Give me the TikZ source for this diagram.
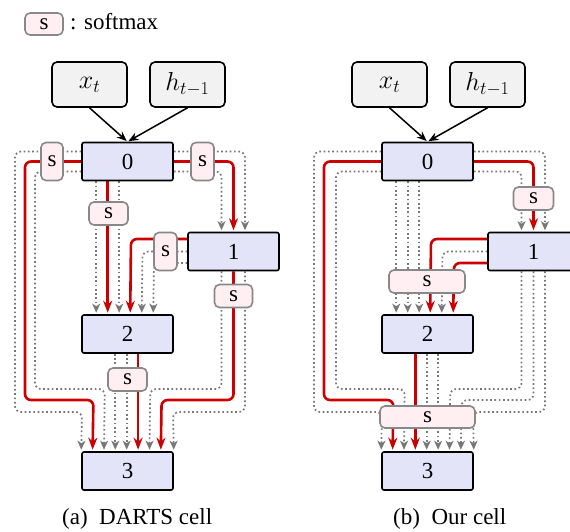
\RequirePackage{fix-cm}
\documentclass[tikz,border=0pt]{standalone}
\usepackage[no-math]{fontspec}
\setmainfont{Liberation Serif}
\usetikzlibrary{arrows.meta,calc}
\definecolor{nodefill}{RGB}{228,228,248}
\definecolor{sfill}{RGB}{255,238,242}
\definecolor{sdraw}{RGB}{136,136,136}
\definecolor{infill}{RGB}{242,242,242}
\definecolor{redl}{RGB}{204,0,0}
\definecolor{grayl}{RGB}{120,120,120}
\pgfdeclarelayer{bg}
\pgfsetlayers{bg,main}
\begin{document}
\begin{tikzpicture}[x=1pt,y=-1pt,
  font=\fontsize{23}{27}\selectfont,
  cellnode/.style={draw=black, line width=1.6pt, fill=nodefill, rounded corners=2pt, minimum width=91pt, minimum height=38pt, inner sep=0pt},
  innode/.style={draw=black, line width=1.6pt, fill=infill, rounded corners=5pt, minimum width=75pt, minimum height=45pt, inner sep=0pt, font=\fontsize{26}{30}\selectfont},
  sbox/.style={draw=sdraw, line width=1.6pt, fill=sfill, rounded corners=5pt, inner sep=0pt},
  redarr/.style={draw=redl, line width=2.6pt, rounded corners=6pt, shorten >=1.5pt, -{Stealth[length=12pt,width=9pt]}},
  dotarr/.style={draw=grayl, line width=1.7pt, dash pattern=on 1.7pt off 2.6pt, rounded corners=6pt, shorten >=1.5pt, -{Stealth[length=9pt,width=8pt,inset=2.5pt]}},
  inarr/.style={draw=black, line width=1.5pt, shorten >=1pt, -{Stealth[length=10pt,width=8pt]}}
]
\clip (0,0) rectangle (570,531);
% legend
\node[sbox, minimum width=38pt, minimum height=22pt] (ls) at (44,24) {s};
\node[anchor=base west, inner sep=0pt] (lt) at ([xshift=6pt]ls.base east) {: softmax};

% ---------------- (a) DARTS cell ----------------
\node[innode] (ax) at (89.5,84.5) {$x_t$};
\node[innode] (ah) at (187.5,84.5) {$h_{t-1}$};
\node[cellnode] (a0) at (127.5,161.5) {0};
\node[cellnode] (a1) at (233.5,251.5) {1};
\node[cellnode] (a2) at (127.5,334) {2};
\node[cellnode] (a3) at (127.5,471) {3};
\draw[inarr] (ax.south) -- (a0.north);
\draw[inarr] (ah.south) -- (a0.north);

\begin{pgfonlayer}{bg}
% red
\draw[redarr] (a0.west) -- (25,161.5) -- (25,400) -- (93.4,400) -- ($(a3.north west)+(11.4,0)$);
\draw[redarr] (a0.east) -- (233.5,161.5) -- (a1.north);
\draw[redarr] ($(a0.south west)+(26.5,0)$) -- ($(a2.north west)+(26.5,0)$);
\draw[redarr] ($(a1.west)+(0,-12.5)$) -- (131,239) -- ($(a2.north west)+(49,0)$);
\draw[redarr] (a1.south) -- (233.5,400) -- (161.6,400) -- ($(a3.north west)+(79.6,0)$);
\draw[redarr] ($(a2.south west)+(56.9,0)$) -- ($(a3.north west)+(56.9,0)$);
% dotted
\draw[dotarr] ($(a0.west)+(0,-10)$) -- (15,151.5) -- (15,412) -- (82,412) -- (a3.north west);
\draw[dotarr] ($(a0.west)+(0,10)$) -- (35,171.5) -- (35,389) -- (104.75,389) -- ($(a3.north west)+(22.75,0)$);
\draw[dotarr] ($(a0.east)+(0,-10)$) -- (245,151.5) -- ($(a1.north)+(11.5,0)$);
\draw[dotarr] ($(a0.east)+(0,10)$) -- (221.5,171.5) -- ($(a1.north)+(-12,0)$);
\draw[dotarr] ($(a0.south west)+(15,0)$) -- ($(a2.north west)+(15,0)$);
\draw[dotarr] ($(a0.south west)+(38,0)$) -- ($(a2.north west)+(38,0)$);
\draw[dotarr] (a1.west) -- (142.5,251.5) -- ($(a2.north west)+(60.5,0)$);
\draw[dotarr] ($(a1.west)+(0,11.5)$) -- (154,263) -- ($(a2.north west)+(72,0)$);
\draw[dotarr] ($(a1.south)+(-12,0)$) -- (221.5,389) -- (150.25,389) -- ($(a3.north west)+(68.25,0)$);
\draw[dotarr] ($(a1.south)+(11.5,0)$) -- (245,412) -- (173,412) -- (a3.north east);
\draw[dotarr] ($(a2.south west)+(34.1,0)$) -- ($(a3.north west)+(34.1,0)$);
\draw[dotarr] ($(a2.south west)+(45.5,0)$) -- ($(a3.north west)+(45.5,0)$);
\end{pgfonlayer}

\node[sbox, minimum width=22pt, minimum height=38pt] (as0l) at (52,161.5) {s};
\node[sbox, minimum width=23pt, minimum height=38pt] (as0r) at (202.5,161.5) {s};
\node[sbox, minimum width=39pt, minimum height=23pt] (as02) at (108.5,213.5) {s};
\node[sbox, minimum width=23pt, minimum height=38pt] (as1l) at (165.5,251.5) {s};
\node[sbox, minimum width=38pt, minimum height=23pt] (as13) at (233.5,296) {s};
\node[sbox, minimum width=39pt, minimum height=23pt] (as23) at (127.5,379.5) {s};

\node[anchor=base west, inner sep=0pt] (capa) at (62,524) {(a)\enspace DARTS cell};

% ---------------- (b) Our cell ----------------
\node[innode] (bx) at (389.5,84.5) {$x_t$};
\node[innode] (bh) at (487.5,84.5) {$h_{t-1}$};
\node[cellnode] (b0) at (427.5,161.5) {0};
\node[cellnode] (b1) at (533.5,251.5) {1};
\node[cellnode] (b2) at (427.5,334) {2};
\node[cellnode] (b3) at (427.5,471) {3};
\draw[inarr] (bx.south) -- (b0.north);
\draw[inarr] (bh.south) -- (b0.north);

\begin{pgfonlayer}{bg}
% red
\draw[redarr] (b0.west) -- (324,161.5) -- (324,400) -- (393.4,400) -- ($(b3.north west)+(11.4,0)$);
\draw[redarr] (b0.east) -- (533.5,161.5) -- (b1.north);
\draw[redarr] ($(b1.west)+(0,-12.5)$) -- (431,239) -- ($(b2.north west)+(49,0)$);
\draw[redarr] ($(b1.west)+(0,11.5)$) -- (454,263) -- ($(b2.north west)+(72,0)$);
\draw[redarr] ($(b2.south west)+(34.1,0)$) -- ($(b3.north west)+(34.1,0)$);
% dotted
\draw[dotarr] ($(b0.west)+(0,-10)$) -- (314,151.5) -- (314,412) -- (382,412) -- (b3.north west);
\draw[dotarr] ($(b0.west)+(0,10)$) -- (336,171.5) -- (336,389) -- (404.75,389) -- ($(b3.north west)+(22.75,0)$);
\draw[dotarr] ($(b0.east)+(0,-10)$) -- (545,151.5) -- ($(b1.north)+(11.5,0)$);
\draw[dotarr] ($(b0.east)+(0,10)$) -- (521.5,171.5) -- ($(b1.north)+(-12,0)$);
\draw[dotarr] ($(b0.south west)+(15,0)$) -- ($(b2.north west)+(15,0)$);
\draw[dotarr] ($(b0.south west)+(26.5,0)$) -- ($(b2.north west)+(26.5,0)$);
\draw[dotarr] ($(b0.south west)+(38,0)$) -- ($(b2.north west)+(38,0)$);
\draw[dotarr] (b1.west) -- (442.5,251.5) -- ($(b2.north west)+(60.5,0)$);
\draw[dotarr] ($(b1.south)+(-12,0)$) -- (521.5,389) -- (450.25,389) -- ($(b3.north west)+(68.25,0)$);
\draw[dotarr] (b1.south) -- (533.5,400) -- (461.6,400) -- ($(b3.north west)+(79.6,0)$);
\draw[dotarr] ($(b1.south)+(11.5,0)$) -- (545,412) -- (473,412) -- (b3.north east);
\draw[dotarr] ($(b2.south west)+(45.5,0)$) -- ($(b3.north west)+(45.5,0)$);
\draw[dotarr] ($(b2.south west)+(56.9,0)$) -- ($(b3.north west)+(56.9,0)$);
\end{pgfonlayer}

\node[sbox, minimum width=40pt, minimum height=23pt] (bs01) at (533.5,198.5) {s};
\node[sbox, minimum width=76pt, minimum height=23pt] (bs12) at (427,281.5) {s};
\node[sbox, minimum width=95pt, minimum height=22pt] (bs3) at (427.5,417) {s};

\node[anchor=base west, inner sep=0pt] (capb) at (393,524) {(b)\enspace Our cell};
\end{tikzpicture}
\end{document}
